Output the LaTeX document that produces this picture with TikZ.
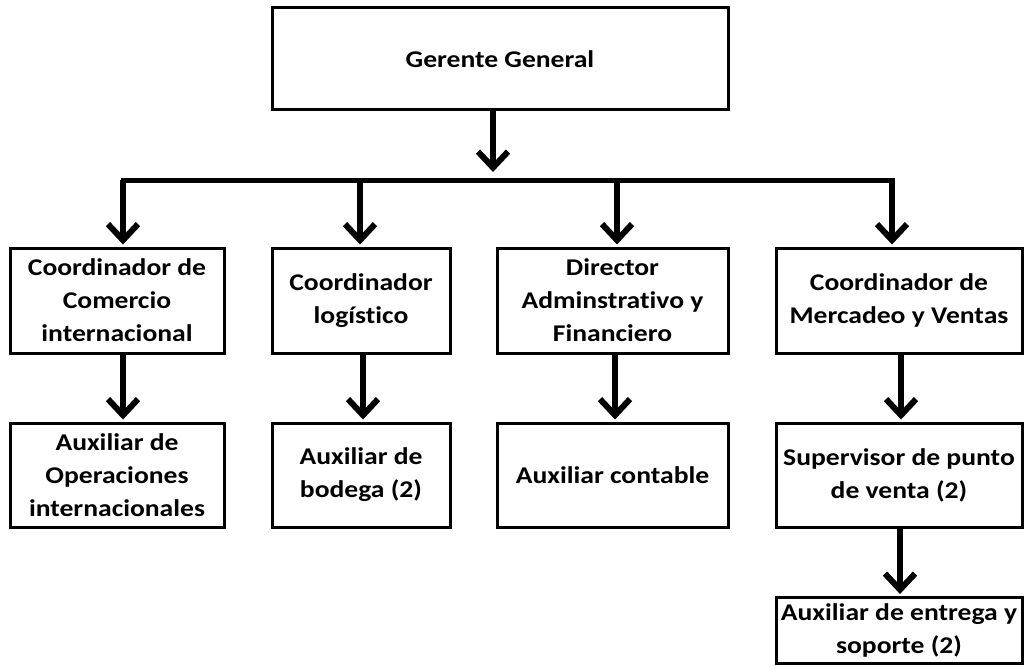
\documentclass[tikz,border=0pt]{standalone}
\usepackage{fontspec}
\newfontfamily\orgfont{Carlito}[FakeStretch=1.15,Ligatures=NoCommon]
\usetikzlibrary{arrows.meta}

\begin{document}
\begin{tikzpicture}[x=1pt,y=-1pt,
  box/.style={draw,line width=3pt,align=center,inner sep=0pt,
    font=\orgfont\bfseries\fontsize{24}{33}\selectfont},
  arr/.style={line width=6pt,-{Straight Barb[length=16pt,width=30pt]},shorten >=2pt}]
\useasboundingbox (0,0) rectangle (1024,666);

\node (G) at (500,59) [box,minimum width=456pt,minimum height=102pt] {Gerente General};

\node (C1) at (117,300.5) [box,minimum width=214pt,minimum height=105pt] {Coordinador de\\Comercio\\internacional};
\node (C2) at (361,300.5) [box,minimum width=178pt,minimum height=105pt] {Coordinador\\log\'istico};
\node (C3) at (612.5,300.5) [box,minimum width=231pt,minimum height=105pt] {Director\\Adminstrativo y\\Financiero};
\node (C4) at (899,300.5) [box,minimum width=246pt,minimum height=105pt] {Coordinador de\\Mercadeo y Ventas};

\node (A1) at (117,475) [box,minimum width=214pt,minimum height=104pt] {Auxiliar de\\Operaciones\\internacionales};
\node (A2) at (361,475) [box,minimum width=178pt,minimum height=104pt] {Auxiliar de\\bodega (2)};
\node (A3) at (612.5,475) [box,minimum width=231pt,minimum height=104pt] {Auxiliar contable};
\node (A4) at (899,475) [box,minimum width=246pt,minimum height=104pt] {Supervisor de punto\\de venta (2)};
\node (A5) at (899,630.5) [box,minimum width=246pt,minimum height=66pt] {Auxiliar de entrega y\\soporte (2)};

\coordinate (bar) at (493,180);
\coordinate (b1) at (123,180);
\coordinate (b2) at (360,180);
\coordinate (b3) at (617,180);
\coordinate (b4) at (892,180);

\draw[arr,shorten >=8pt] ([xshift=-7pt]G.south) -- (bar);
\draw[line width=5pt,line cap=rect] (b1) -- (b4);
\draw[arr] (b1) -- (b1 |- C1.north);
\draw[arr] (b2) -- (b2 |- C2.north);
\draw[arr] (b3) -- (b3 |- C3.north);
\draw[arr] (b4) -- (b4 |- C4.north);

\draw[arr] ([xshift=6pt]C1.south) -- ([xshift=6pt]A1.north);
\draw[arr] ([xshift=2pt]C2.south) -- ([xshift=2pt]A2.north);
\draw[arr] ([xshift=2.5pt]C3.south) -- ([xshift=2.5pt]A3.north);
\draw[arr] ([xshift=2pt]C4.south) -- ([xshift=2pt]A4.north);
\draw[arr] ([xshift=1pt]A4.south) -- ([xshift=1pt]A5.north);
\end{tikzpicture}
\end{document}
